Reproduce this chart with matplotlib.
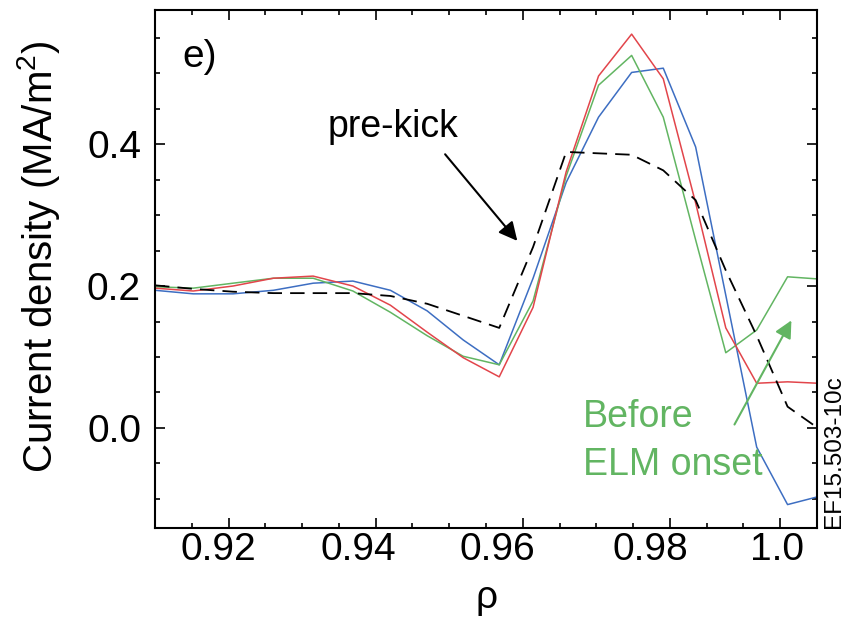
import matplotlib
matplotlib.use("Agg")
from matplotlib import pyplot as plt
from matplotlib.ticker import MultipleLocator, FixedLocator, NullFormatter, FormatStrFormatter

plt.rcParams['font.family'] = 'Liberation Sans'
plt.rcParams['mathtext.fontset'] = 'custom'
plt.rcParams['mathtext.rm'] = 'Liberation Sans'
plt.rcParams['mathtext.default'] = 'regular'

# radial grid (rho) shared by all profiles
rho = [0.9100, 0.9152, 0.9206, 0.9261, 0.9315, 0.9369, 0.9420, 0.9470, 0.9519, 0.9568,
       0.9614, 0.9659, 0.9703, 0.9748, 0.9791, 0.9835, 0.9876, 0.9918, 0.9960, 1.0001]

# current density profiles (MA/m^2)
j_prekick = [0.201, 0.196, 0.192, 0.190, 0.190, 0.190, 0.186, 0.175, 0.158, 0.141,
             0.255, 0.389, 0.387, 0.385, 0.363, 0.321, 0.222, 0.130, 0.030, 0.000]
j_red = [0.197, 0.193, 0.200, 0.211, 0.214, 0.200, 0.173, 0.135, 0.099, 0.072,
         0.170, 0.361, 0.496, 0.555, 0.492, 0.317, 0.141, 0.063, 0.065, 0.063]
j_green = [0.199, 0.197, 0.204, 0.211, 0.211, 0.193, 0.163, 0.130, 0.101, 0.089,
           0.179, 0.355, 0.483, 0.525, 0.438, 0.265, 0.106, 0.138, 0.213, 0.210]
j_blue = [0.194, 0.189, 0.189, 0.194, 0.204, 0.207, 0.194, 0.165, 0.124, 0.089,
          0.211, 0.346, 0.438, 0.501, 0.507, 0.396, 0.187, -0.027, -0.108, -0.097]

# x ticks as drawn in the original: tick marks and (slightly offset) labels
xtick_pos = [0.92, 0.94, 0.96, 0.98, 0.995]
xlabel_pos = [0.9186, 0.9376, 0.9565, 0.9773, 0.9946]
xlabel_txt = ['0.92', '0.94', '0.96', '0.98', '1.0']

green = '#62b562'
fs = 28

fig = plt.figure(figsize=(8.46, 6.18), dpi=100)
ax = fig.add_axes([155/846, 1-528/618, (817-155)/846, (528-10)/618])

ax.plot(rho, j_blue, color='#3d6ec2', lw=1.1)
ax.plot(rho, j_green, color=green, lw=1.1)
ax.plot(rho, j_red, color='#e2454b', lw=1.1)
ax.plot(rho, j_prekick, color='black', lw=1.3, dashes=(8, 4.5))

ax.set_xlim(0.910, 1.000)
ax.set_ylim(-0.141, 0.589)

for s in ax.spines.values():
    s.set_linewidth(1.5)

ax.xaxis.set_major_locator(FixedLocator(xtick_pos))
ax.xaxis.set_minor_locator(MultipleLocator(0.005))
ax.xaxis.set_major_formatter(NullFormatter())
ax.yaxis.set_major_locator(MultipleLocator(0.2))
ax.yaxis.set_minor_locator(MultipleLocator(0.05))
ax.yaxis.set_major_formatter(FormatStrFormatter('%.1f'))
ax.tick_params(which='both', direction='in', top=True, right=True, width=1.2)
ax.tick_params(which='major', length=7, labelsize=fs, pad=10)
ax.tick_params(which='minor', length=3.5)

for x, t in zip(xlabel_pos, xlabel_txt):
    ax.annotate(t, (x, 0), xycoords=('data', 'axes fraction'), xytext=(0, -4),
                textcoords='offset pixels', ha='center', va='top', fontsize=fs)

ax.set_ylabel('Current density (MA/m$^2$)', fontsize=29)
ax.yaxis.set_label_coords(-0.140, 0.523)
ax.set_xlabel('ρ', fontsize=fs)
ax.xaxis.set_label_coords(0.50, -0.10)

ax.text(0.042, 0.89, 'e)', transform=ax.transAxes, fontsize=fs, va='baseline', ha='left')

ax.annotate('', xy=(0.9595, 0.2606), xytext=(0.9492, 0.3887),
            arrowprops=dict(arrowstyle='-|>', color='black', lw=1.5, mutation_scale=28))
ax.text(0.261, 0.755, 'pre-kick', transform=ax.transAxes, fontsize=27, va='baseline', ha='left')

ax.annotate('', xy=(0.9967, 0.155), xytext=(0.9886, 0.0014),
            arrowprops=dict(arrowstyle='-|>', color=green, lw=1.5, mutation_scale=26))
ax.text(0.6465, 0.195, 'Before', transform=ax.transAxes, fontsize=27, color=green, va='baseline')
ax.text(0.6465, 0.102, 'ELM onset', transform=ax.transAxes, fontsize=27, color=green, va='baseline')

fig.text(834/846, 1-528/618, 'EF15.503-10c', rotation=90, ha='center', va='bottom', fontsize=17.5)

fig.savefig('out.png', dpi=100)
